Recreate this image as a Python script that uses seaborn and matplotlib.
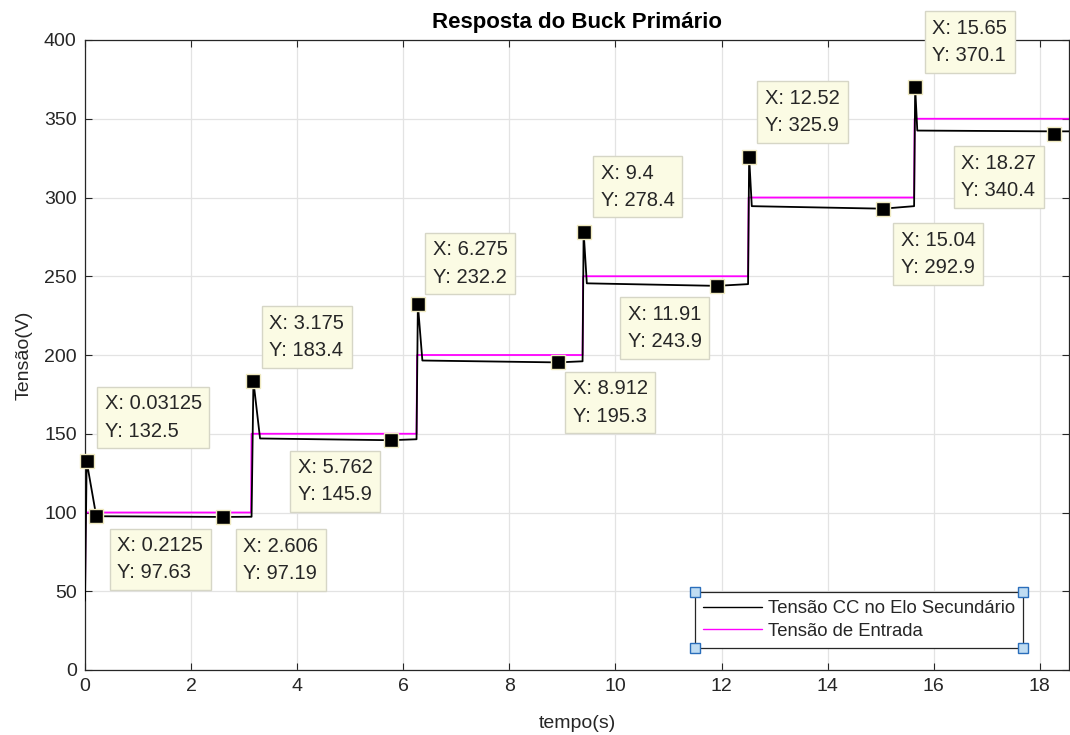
import numpy as np
import pandas as pd
import matplotlib
matplotlib.use("Agg")
import matplotlib.pyplot as plt
import seaborn as sns
from matplotlib.lines import Line2D

# ---- data ----
t_black = [0.0, 0.03125, 0.2125, 2.606, 3.14, 3.175, 3.30, 5.762, 6.25, 6.275, 6.36,
           8.912, 9.38, 9.40, 9.46, 11.91, 12.50, 12.52, 12.57, 15.04, 15.63, 15.65,
           15.69, 18.20, 18.27, 18.32, 18.55]
v_black = [44.0, 132.5, 97.63, 97.19, 97.3, 183.4, 147.0, 145.9, 146.5, 232.2, 196.5,
           195.3, 196.0, 278.4, 245.5, 243.9, 245.0, 325.9, 294.5, 292.9, 294.5, 370.1,
           342.5, 342.0, 340.4, 342.0, 342.0]
t_in = [0.0, 0.01, 3.13, 3.14, 6.25, 6.26, 9.38, 9.39, 12.50, 12.51, 15.63, 15.64, 18.55]
v_in = [44.0, 100.0, 100.0, 150.0, 150.0, 200.0, 200.0, 250.0, 250.0, 300.0, 300.0, 350.0, 350.0]

tip_x = [0.03125, 0.2125, 2.606, 3.175, 5.762, 6.275, 8.912, 9.4, 11.91, 12.52, 15.04, 15.65, 18.27]
tip_y = [132.5, 97.63, 97.19, 183.4, 145.9, 232.2, 195.3, 278.4, 243.9, 325.9, 292.9, 370.1, 340.4]
tip_xlabel = ["0.03125", "0.2125", "2.606", "3.175", "5.762", "6.275", "8.912", "9.4",
              "11.91", "12.52", "15.04", "15.65", "18.27"]
tip_ylabel = ["132.5", "97.63", "97.19", "183.4", "145.9", "232.2", "195.3", "278.4",
              "243.9", "325.9", "292.9", "370.1", "340.4"]
# box placement (pixels): (side, dx, dy) side 'L' = box left edge at dx, 'R' = box right edge at dx; dy>0 below
tip_place = [("L", 10, -75), ("L", 13, 12), ("L", 12, 12), ("L", 8, -75), ("R", -10, 10),
             ("L", 7, -72), ("L", 7, 9), ("L", 9, -76), ("R", -7, 11), ("L", 8, -76),
             ("L", 10, 14), ("L", 9, -76), ("R", -10, 12)]

series_black = "Tensão CC no Elo Secundário"
series_in = "Tensão de Entrada"

sns.set_style("ticks")
plt.rcParams['font.family'] = ['Liberation Sans', 'DejaVu Sans']
txtc = '#262626'

W, H = 1070, 735
fig = plt.figure(figsize=(W / 100, H / 100), dpi=100)
fig.patch.set_facecolor('white')
ax = fig.add_axes([85 / W, 1 - 670 / H, (1069 - 85) / W, 630 / H])

df_b = pd.DataFrame({"t": t_black, "v": v_black})
df_i = pd.DataFrame({"t": t_in, "v": v_in})
sns.lineplot(data=df_b, x="t", y="v", ax=ax, color="black", lw=1.3, sort=False,
             estimator=None, label=series_black, zorder=3)
sns.lineplot(data=df_i, x="t", y="v", ax=ax, color="#ff00ff", lw=1.3, sort=False,
             estimator=None, label=series_in, zorder=2)

ax.set_xlim(0, 18.55)
ax.set_ylim(0, 400)
ax.set_xticks(np.arange(0, 19, 2))
ax.set_yticks(np.arange(0, 401, 50))
ax.grid(True, color='#e3e3e3', lw=0.9)
ax.set_axisbelow(True)
for s in ax.spines.values():
    s.set_color(txtc)
    s.set_linewidth(0.9)
ax.tick_params(direction='in', top=True, right=True, length=5, width=0.8,
               colors=txtc, labelsize=14, pad=6)

ax.set_xlabel("tempo(s)", fontsize=14, color=txtc, labelpad=14)
ax.set_ylabel("Tensão(V)", fontsize=14, color=txtc, labelpad=8)
ax.set_title("Resposta do Buck Primário", fontsize=16, fontweight='bold', color='black', pad=8.5)

# data tips
ax.plot(tip_x, tip_y, ls='none', marker='s', ms=10.5, mfc='black', mec='#efe9c0',
        mew=1.0, zorder=6, clip_on=False)
pad_px = 8
for x, y, xl, yl, (side, dx, dy) in zip(tip_x, tip_y, tip_xlabel, tip_ylabel, tip_place):
    if side == "L":
        off = (dx + pad_px, -(dy + pad_px))
        ha = 'left'
    else:
        off = (dx - pad_px, -(dy + pad_px))
        ha = 'right'
    ax.annotate(f"X: {xl}\nY: {yl}", xy=(x, y), xytext=off, textcoords='offset pixels',
                ha=ha, va='top', multialignment='left', fontsize=14.5, color=txtc,
                linespacing=1.55,
                bbox=dict(boxstyle='square,pad=0.38', fc='#fbfbe4', ec='#d6d6c6', lw=1.0),
                zorder=7, annotation_clip=False)

leg = ax.legend(loc='lower right', bbox_to_anchor=((1023 - 85) / 984, 22 / 630),
                borderaxespad=0, fontsize=13.3, frameon=True, fancybox=False,
                framealpha=1, edgecolor=txtc, handlelength=3.2, handletextpad=0.3,
                labelspacing=0.3, borderpad=0.45, labelcolor=txtc)
leg.get_frame().set_linewidth(0.9)
for lh in leg.get_lines():
    lh.set_linewidth(1.0)

fig.canvas.draw()
bb = leg.get_window_extent().transformed(fig.transFigure.inverted())
cx = [bb.x0, bb.x1, bb.x0, bb.x1]
cy = [bb.y0, bb.y0, bb.y1, bb.y1]
fig.add_artist(Line2D(cx, cy, ls='none', marker='s', ms=6.5, mfc='#bfdcf2', mec='#2a6ebb',
                      mew=1.0, transform=fig.transFigure, zorder=10))

fig.savefig("out.png", dpi=100)
